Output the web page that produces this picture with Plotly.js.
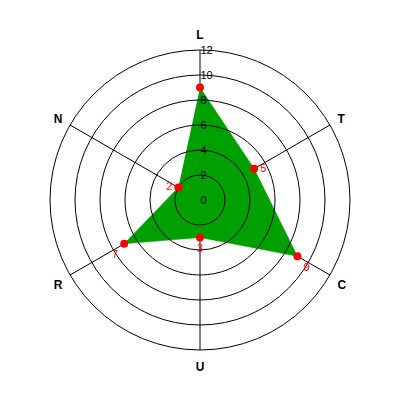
<!DOCTYPE html>
<html>
<head>
<meta charset="utf-8">
<script src="https://cdn.plot.ly/plotly-3.0.1.min.js"></script>
<style>html,body{margin:0;padding:0;background:#fff;}#chart{width:400px;height:400px;}</style>
</head>
<body>
<div id="chart"></div>
<script>
// Data
const categories = ["L", "T", "C", "U", "R", "N"];
const values = [9, 5, 9, 3, 7, 2];
const pointLabels = ["", "5", "9", "3", "7", "2"];
const labelPositions = ["bottom center", "middle right", "bottom right", "bottom center", "bottom left", "middle left"];
const radialTicks = [0, 2, 4, 6, 8, 10, 12];

const font = "Liberation Sans, Arial, sans-serif";

const fillTrace = {
  type: "scatterpolar",
  subplot: "polar",
  r: values,
  theta: categories,
  mode: "lines",
  fill: "toself",
  fillcolor: "#00a000",
  line: {color: "#00a000", width: 0.5},
  hoverinfo: "skip"
};
const pointTrace = {
  type: "scatterpolar",
  subplot: "polar2",
  r: values,
  theta: categories,
  mode: "markers+text",
  marker: {color: "#ff0000", size: 8},
  text: pointLabels,
  textposition: labelPositions,
  textfont: {color: "#ff0000", size: 11, family: font}
};

const angularBase = {
  type: "category",
  categoryarray: categories,
  rotation: 90,
  direction: "clockwise"
};

const layout = {
  width: 400,
  height: 400,
  margin: {l: 50, r: 50, t: 50, b: 50},
  paper_bgcolor: "#ffffff",
  showlegend: false,
  // bottom layer: spokes, outer circle, category labels, filled area
  polar: {
    domain: {x: [0, 1], y: [0, 1]},
    bgcolor: "#ffffff",
    radialaxis: {
      range: [0, 12],
      tickvals: radialTicks,
      showgrid: false,
      showline: false,
      showticklabels: false,
      ticks: ""
    },
    angularaxis: Object.assign({}, angularBase, {
      showline: true,
      linecolor: "#000000",
      linewidth: 1,
      showgrid: true,
      gridcolor: "#000000",
      gridwidth: 1,
      ticks: "outside",
      ticklen: 6,
      tickcolor: "rgba(0,0,0,0)",
      tickfont: {size: 12, color: "#000000", family: font, weight: "bold"}
    })
  },
  // top layer: rings, radial tick labels, points and their labels
  polar2: {
    domain: {x: [0, 1], y: [0, 1]},
    bgcolor: "rgba(0,0,0,0)",
    radialaxis: {
      range: [0, 12],
      tickvals: radialTicks,
      ticktext: radialTicks.map(String),
      angle: 90,
      tickangle: 90,
      showline: false,
      showgrid: true,
      gridcolor: "#000000",
      gridwidth: 1,
      ticks: "",
      tickfont: {size: 11, color: "#000000", family: font}
    },
    angularaxis: Object.assign({}, angularBase, {
      showline: false,
      showgrid: false,
      showticklabels: false,
      ticks: ""
    })
  }
};

Plotly.newPlot("chart", [fillTrace, pointTrace], layout, {displayModeBar: false, staticPlot: true});
</script>
</body>
</html>
